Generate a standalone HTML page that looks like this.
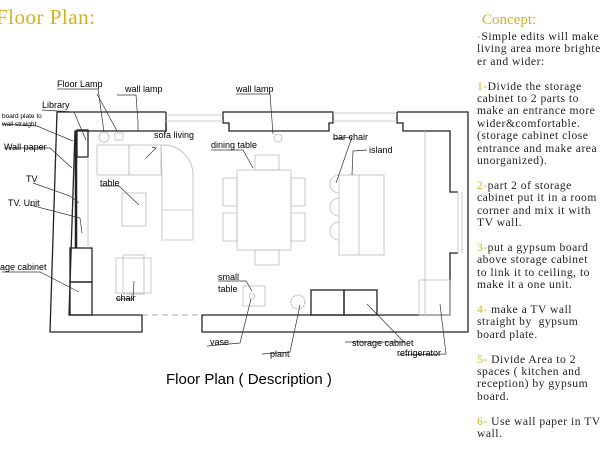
<!DOCTYPE html>
<html><head><meta charset="utf-8"><style>
html,body{margin:0;padding:0;background:#fff}
body{width:600px;height:460px;overflow:hidden;position:relative}
.t{position:absolute;font-family:"Liberation Serif",serif}
</style></head><body>
<div class="t" style="left:-4px;top:5px;font-size:21px;color:#d4b21e;letter-spacing:0.5px">Floor Plan:</div>
<div class="t" style="left:482px;top:12px;font-size:15px;color:#d4b21e">Concept:</div>
<div class="t" style="left:477px;top:31px;font-size:11.6px;line-height:12.4px;color:#222;white-space:pre;letter-spacing:0.5px"><span style="color:#d4b21e">-</span>Simple edits will make
living area more brighter
er and wider:

<span style="color:#d4b21e">1-</span>Divide the storage
cabinet to 2 parts to
make an entrance more
wider&amp;comfortable.
(storage cabinet close
entrance and make area
unorganized).

<span style="color:#d4b21e">2-</span>part 2 of storage
cabinet put it in a room
corner and mix it with
TV wall.

<span style="color:#d4b21e">3-</span>put a gypsum board
above storage cabinet
to link it to ceiling, to
make it a one unit.

<span style="color:#d4b21e">4-</span> make a TV wall
straight by  gypsum
board plate.

<span style="color:#d4b21e">5-</span> Divide Area to 2
spaces ( kitchen and
reception) by gypsum
board.

<span style="color:#d4b21e">6-</span> Use wall paper in TV
wall.</div>
<svg width="600" height="460" style="position:absolute;left:0;top:0" font-family="Liberation Sans,sans-serif" font-size="9" fill="#000">
<g fill="none" stroke="#222" stroke-width="1.3">
<polyline points="166,112 57,112 50,332 142,332 142,315 69,315 75,131 166,131 166,123"/>
<polygon points="223,112 333,112 333,123 329,123 329,131 229,131 229,123 223,123"/>
<polyline points="397,112 468,112 468,332 202,332 202,315 450,315 450,253 458,253"/>
<polyline points="397,112 397,123 403,123 403,131 450,131 450,192 458,192"/>
<line x1="166" y1="112" x2="166" y2="131"/>
<rect x="70" y="248" width="22" height="34"/><rect x="70" y="282" width="22" height="33"/>
<rect x="77" y="130" width="11" height="27"/>
<line x1="76" y1="131" x2="76" y2="248" stroke-width="2.5"/>
<rect x="311" y="290" width="33" height="25"/><rect x="344" y="290" width="33" height="25"/>
</g>
<g fill="none" stroke="#bbb" stroke-width="0.8">
<line x1="166" y1="115" x2="223" y2="115"/><line x1="166" y1="121" x2="223" y2="121"/>
<line x1="333" y1="113" x2="397" y2="113"/><line x1="333" y1="121" x2="397" y2="121"/>
<line x1="458" y1="192" x2="458" y2="253"/><line x1="462" y1="192" x2="462" y2="253"/>
<line x1="142" y1="315" x2="202" y2="315" stroke-dasharray="6,4" stroke="#888"/>
<line x1="88" y1="157" x2="88" y2="248"/>
<rect x="97" y="145" width="32" height="30"/><rect x="129" y="145" width="32" height="30"/>
<path d="M161,145 A30,30 0 0 1 193,175 L193,240 L162,240 L162,175 Z"/>
<line x1="162" y1="210" x2="193" y2="210"/>
<rect x="122" y="193" width="24" height="33"/>
<rect x="116" y="258" width="35" height="35"/><rect x="123" y="255" width="21" height="39"/>
<rect x="237" y="170" width="54" height="80"/>
<rect x="255" y="155" width="24" height="15"/><rect x="255" y="250" width="24" height="15"/>
<rect x="223" y="178" width="14" height="28"/><rect x="223" y="213" width="14" height="28"/>
<rect x="291" y="178" width="14" height="28"/><rect x="291" y="213" width="14" height="28"/>
<rect x="339" y="175" width="45" height="80"/><line x1="359" y1="175" x2="359" y2="255"/>
<path d="M339,175 a9,9 0 0 0 0,18 M339,198 a9,9 0 0 0 0,18 M339,222 a9,9 0 0 0 0,18"/>
<line x1="425" y1="131" x2="425" y2="315"/>
<rect x="419" y="280" width="31" height="35"/>
<rect x="243" y="286" width="22" height="20"/><circle cx="252" cy="296" r="3"/>
<circle cx="278" cy="138" r="4"/><circle cx="104" cy="137" r="5"/><rect x="115" y="133" width="8" height="7"/>
<circle cx="298" cy="302" r="7" stroke-dasharray="2,1" stroke="#999"/>
</g>
<g fill="none" stroke="#333" stroke-width="0.7">
<polyline points="57,89 98,89 104,132"/><polyline points="97,94 117,131"/>
<polyline points="42,110 74,112 86,140"/><polyline points="2,124 37,126 73,141"/>
<polyline points="4,148 50,148 72,168"/><polyline points="33,183 70,196 79,203"/>
<polyline points="30,205 80,218 82,233"/><polyline points="2,272 40,272 79,292"/>
<polyline points="117,95 136,95 138,122 138,131"/><polyline points="152,147 156,148 146,158"/>
<polyline points="100,186 119,186 139,205"/><polyline points="116,299 133,299 134,281"/>
<polyline points="236,94 270,94 273,134"/><polyline points="211,150 243,150 253,168"/>
<polyline points="333,139 352,137 336,183"/><polyline points="367,150 353,151 352,175"/>
<polyline points="218,281 246,281 252,291"/><polyline points="207,346 240,343 251,299"/>
<polyline points="262,354 290,352 300,305"/><polyline points="345,342 404,342 367,304"/>
<polyline points="399,355 446,354 440,304"/>
</g>
<text x="57" y="87">Floor Lamp</text><text x="125" y="92">wall lamp</text>
<text x="42" y="108">Library</text>
<text x="2" y="118" font-size="6.5">board plate to</text><text x="2" y="126" font-size="6.5">wall straight</text>
<text x="4" y="150">Wall paper</text><text x="26" y="182">TV</text><text x="8" y="206">TV.  Unit</text>
<text x="0" y="270">age cabinet</text>
<text x="154" y="138">sofa living</text><text x="100" y="186">table</text><text x="116" y="301">chair</text>
<text x="236" y="92">wall lamp</text><text x="211" y="148">dining table</text>
<text x="333" y="140">bar chair</text><text x="369" y="153">island</text>
<text x="218" y="280">small</text><text x="218" y="292">table</text>
<text x="210" y="345">vase</text><text x="270" y="357">plant</text>
<text x="352" y="346">storage cabinet</text><text x="397" y="356">refrigerator</text>
<text x="166" y="384" font-size="15">Floor Plan ( Description )</text>
</svg>
</body></html>
